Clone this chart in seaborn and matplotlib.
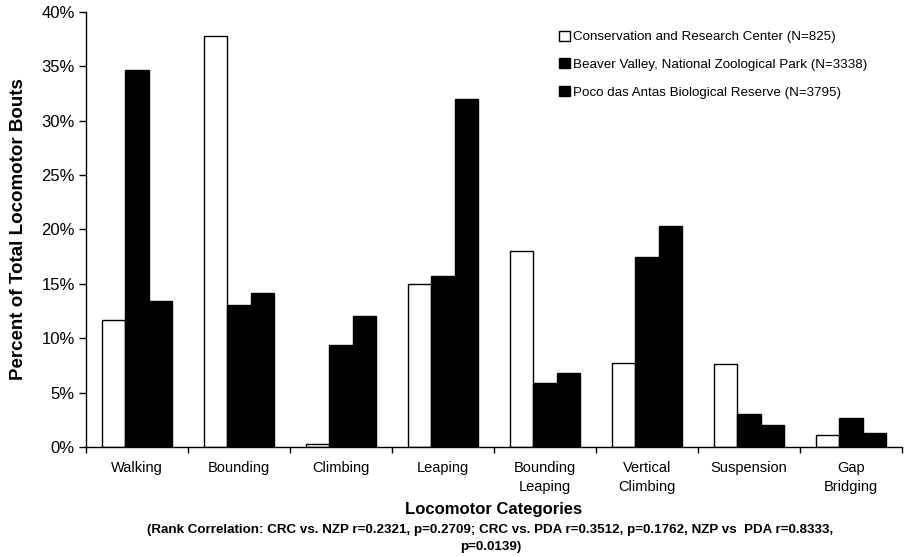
import pandas as pd
import matplotlib.pyplot as plt
import seaborn as sns
from matplotlib.ticker import PercentFormatter, FixedLocator

# data (percent of total bouts)
categories = ["Walking", "Bounding", "Climbing", "Leaping", "Bounding\nLeaping",
              "Vertical\nClimbing", "Suspension", "Gap\nBridging"]
sites = ["Conservation and Research Center (N=825)",
         "Beaver Valley, National Zoological Park (N=3338)",
         "Poco das Antas Biological Reserve (N=3795)"]
crc = [11.7, 37.8, 0.3, 15.0, 18.0, 7.7, 7.6, 1.1]
nzp = [34.7, 13.1, 9.4, 15.7, 5.9, 17.5, 3.0, 2.7]
pda = [13.4, 14.2, 12.0, 32.0, 6.8, 20.3, 2.0, 1.3]

df = pd.DataFrame({
    "Category": categories * 3,
    "Site": [sites[0]] * 8 + [sites[1]] * 8 + [sites[2]] * 8,
    "Percent": crc + nzp + pda,
})

sns.set_style("white")
plt.rcParams['font.family'] = ['Liberation Sans', 'DejaVu Sans']
plt.rcParams['text.color'] = 'black'
plt.rcParams['axes.labelcolor'] = 'black'
plt.rcParams['xtick.color'] = 'black'
plt.rcParams['ytick.color'] = 'black'

fig = plt.figure(figsize=(9.08, 5.57), dpi=100)
ax = fig.add_axes([0.0947, 0.1975, 0.8987, 0.781])

sns.barplot(data=df, x="Category", y="Percent", hue="Site",
            palette=["white", "black", "black"], edgecolor="black",
            linewidth=1.0, width=0.68, gap=0, ax=ax)

ax.set_xlim(-0.5, len(categories) - 0.5)
ax.set_ylim(0, 40)
ax.yaxis.set_major_formatter(PercentFormatter(decimals=0))
ax.set_yticks(range(0, 41, 5))
ax.tick_params(axis="y", direction="out", length=5, width=1,
               labelsize=12, left=True, pad=3)
ax.tick_params(axis="x", which="major", length=0, labelsize=10.5, pad=10)
for lbl in ax.get_xticklabels():
    lbl.set_linespacing(1.45)
ax.xaxis.set_minor_locator(FixedLocator([i - 0.5 for i in range(len(categories) + 1)]))
ax.tick_params(axis="x", which="minor", direction="out", length=4, width=1,
               bottom=True)

for side in ["top", "right"]:
    ax.spines[side].set_visible(False)
for side in ["left", "bottom"]:
    ax.spines[side].set_color("black")
    ax.spines[side].set_linewidth(1.0)

ax.set_ylabel("Percent of Total Locomotor Bouts", fontsize=13.5, fontweight="bold", labelpad=10)
ax.set_xlabel("Locomotor Categories", fontsize=12, fontweight="bold", labelpad=6)

leg = ax.legend(loc="upper right", bbox_to_anchor=(0.972, 0.985), frameon=False,
                fontsize=9.6, handlelength=0.8, handleheight=0.8,
                handletextpad=0.2, labelspacing=1.12)

# caption centred under the plot area
fig.text(0.54, 0.008,
         "(Rank Correlation: CRC vs. NZP r=0.2321, p=0.2709; CRC vs. PDA r=0.3512, p=0.1762, NZP vs  PDA r=0.8333,\np=0.0139)",
         ha="center", va="bottom", fontsize=9.6, fontweight="bold", linespacing=1.5)

plt.savefig("out.png", dpi=100)
